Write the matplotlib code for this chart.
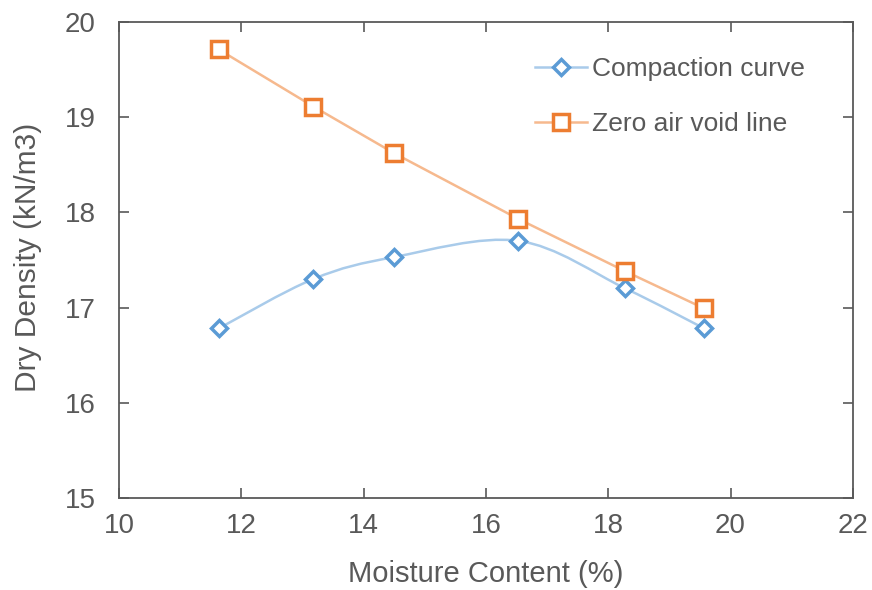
import matplotlib.pyplot as plt
from matplotlib.path import Path
from matplotlib.patches import PathPatch

plt.rcParams['font.family'] = ['Liberation Sans', 'DejaVu Sans']

# 含水率 (%) 与干密度 (kN/m3)
moisture = [11.63, 13.18, 14.50, 16.53, 18.28, 19.57]
dry_density = [16.78, 17.30, 17.53, 17.70, 17.20, 16.78]
zero_air_void = [19.71, 19.11, 18.62, 17.93, 17.38, 16.99]

x_ticks = [10, 12, 14, 16, 18, 20, 22]
y_ticks = [15, 16, 17, 18, 19, 20]

text_color = "#595959"
blue = "#5B9BD5"
blue_line = "#A9CBEA"
orange = "#ED7D31"
orange_line = "#F6B98E"


def smooth_path(xs, ys):
    # Excel 风格的平滑线：Catmull-Rom 转三次贝塞尔
    pts = list(zip(xs, ys))
    verts = [pts[0]]
    codes = [Path.MOVETO]
    n = len(pts)
    for i in range(n - 1):
        p0 = pts[i - 1] if i > 0 else pts[i]
        p1 = pts[i]
        p2 = pts[i + 1]
        p3 = pts[i + 2] if i + 2 < n else pts[i + 1]
        c1 = (p1[0] + (p2[0] - p0[0]) / 6, p1[1] + (p2[1] - p0[1]) / 6)
        c2 = (p2[0] - (p3[0] - p1[0]) / 6, p2[1] - (p3[1] - p1[1]) / 6)
        verts += [c1, c2, p2]
        codes += [Path.CURVE4] * 3
    return Path(verts, codes)


fig = plt.figure(figsize=(8.72, 5.90), dpi=100)
ax = fig.add_axes([0.1365, 0.156, 0.8415, 0.807])

ax.add_patch(PathPatch(smooth_path(moisture, dry_density), facecolor="none",
                       edgecolor=blue_line, lw=1.8, zorder=2))
ax.plot(moisture, dry_density, linestyle="none", marker="D", markersize=8.5,
        markerfacecolor="white", markeredgecolor=blue, markeredgewidth=2.5, zorder=3)
ax.plot(moisture, zero_air_void, color=orange_line, lw=1.8, marker="s", markersize=11,
        markerfacecolor="white", markeredgecolor=orange, markeredgewidth=2.5, zorder=3)

# 图例用的代理句柄
h1, = ax.plot([], [], color=blue_line, lw=1.8, marker="D", markersize=8.5,
              markerfacecolor="white", markeredgecolor=blue, markeredgewidth=2.5)
h2, = ax.plot([], [], color=orange_line, lw=1.8, marker="s", markersize=11,
              markerfacecolor="white", markeredgecolor=orange, markeredgewidth=2.5)
leg = ax.legend([h1, h2], ["Compaction curve", "Zero air void line"], loc="upper right",
                bbox_to_anchor=(0.967, 0.975), frameon=False, fontsize=19,
                labelspacing=1.15, handlelength=1.95, handletextpad=0.2)
for t in leg.get_texts():
    t.set_color(text_color)

ax.set_xlim(10, 22)
ax.set_ylim(15, 20)
ax.set_xticks(x_ticks)
ax.set_yticks(y_ticks)
ax.tick_params(axis="both", which="major", direction="in", length=7, width=1.2,
               colors="#595959", labelsize=20, top=True, right=True)
ax.tick_params(axis="x", pad=11)
ax.tick_params(axis="y", pad=17)
ax.tick_params(axis="both", labelcolor=text_color)
for s in ax.spines.values():
    s.set_color("#595959")
    s.set_linewidth(1.3)

ax.set_xlabel("Moisture Content (%)", fontsize=21, color=text_color)
ax.set_ylabel("Dry Density (kN/m3)", fontsize=21.5, color=text_color)
ax.xaxis.set_label_coords(0.5, -0.130)
ax.yaxis.set_label_coords(-0.105, 0.506)

plt.savefig("out.png", dpi=100)
